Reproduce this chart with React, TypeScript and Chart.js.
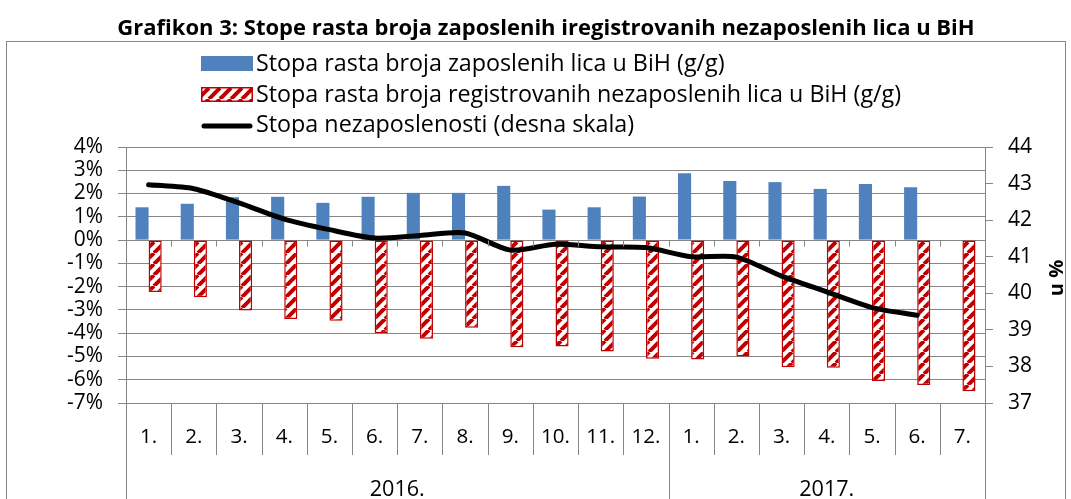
import React, { useEffect, useRef } from "react";
import { Chart, registerables } from "chart.js";

Chart.register(...registerables);

// ---------- data ----------
const titleText = "Grafikon 3: Stope rasta broja zaposlenih iregistrovanih nezaposlenih lica u BiH";
const months = ["1.", "2.", "3.", "4.", "5.", "6.", "7.", "8.", "9.", "10.", "11.", "12.", "1.", "2.", "3.", "4.", "5.", "6.", "7."];
const years = ["2016.", "2017."];
const yearSpans = [12, 7];
const seriesNames = [
  "Stopa rasta broja zaposlenih lica u BiH (g/g)",
  "Stopa rasta broja registrovanih nezaposlenih lica u BiH (g/g)",
  "Stopa nezaposlenosti (desna skala)",
];
const employedGrowth = [1.41, 1.56, 1.84, 1.86, 1.6, 1.86, 2.03, 2.03, 2.33, 1.31, 1.41, 1.87, 2.87, 2.54, 2.49, 2.2, 2.41, 2.27, null];
const unemployedGrowth = [-2.23, -2.46, -3.03, -3.39, -3.47, -4.0, -4.24, -3.77, -4.6, -4.57, -4.79, -5.1, -5.13, -5.0, -5.46, -5.49, -6.06, -6.23, -6.49];
const unemploymentRate = [42.97, 42.86, 42.47, 42.03, 41.74, 41.51, 41.58, 41.65, 41.18, 41.34, 41.27, 41.25, 41.0, 40.99, 40.47, 40.04, 39.61, 39.4, null];
const leftMin = -7;
const leftMax = 4;
const rightMin = 37;
const rightMax = 44;
const rightAxisTitle = "u %";

// ---------- styles ----------
const FONT = "'Open Sans'";
const BLUE = "#4F81BD";
const RED = "#C00000";
const GRID = "#868686";

function fitSize(text: string, target: number, weight = "normal") {
  const c = document.createElement("canvas").getContext("2d")!;
  c.font = `${weight} 100px ${FONT}`;
  const w = c.measureText(text).width;
  return Math.round((1000 * target) / w) / 10;
}

function makeStripePattern(ctx: CanvasRenderingContext2D) {
  const s = 11;
  const c = document.createElement("canvas");
  c.width = s;
  c.height = s;
  const g = c.getContext("2d")!;
  g.fillStyle = "#ffffff";
  g.fillRect(0, 0, s, s);
  g.strokeStyle = RED;
  g.lineWidth = 4;
  g.beginPath();
  for (let k = -1; k <= 1; k++) {
    g.moveTo(k * s, s);
    g.lineTo(k * s + s, 0);
  }
  g.stroke();
  return ctx.createPattern(c, "repeat")!;
}

export default function App() {
  const ref = useRef<HTMLCanvasElement>(null);

  useEffect(() => {
    const canvas = ref.current!;
    const ctx = canvas.getContext("2d")!;
    const pattern = makeStripePattern(ctx);

    const titleSize = fitSize(titleText, 857, "bold");
    const legendSize = fitSize(seriesNames[0], 468);
    const leftSize = fitSize("-7%", 36);
    const rightSize = fitSize("44", 24);
    const monthSize = fitSize("10.", 29);
    const yearSize = fitSize("2016.", 55);
    const monthPad = 437 - 403 - (monthSize * 1.2) / 2;

    const decor = {
      id: "decor",
      beforeDraw(chart: any) {
        const c = chart.ctx;
        c.save();
        c.fillStyle = "#fff";
        c.fillRect(0, 0, chart.width, chart.height);
        // title
        c.fillStyle = "#000";
        c.font = `bold ${titleSize}px ${FONT}`;
        c.textAlign = "center";
        c.textBaseline = "alphabetic";
        c.fillText(titleText, 546, 35);
        // frame
        c.strokeStyle = GRID;
        c.lineWidth = 1;
        c.strokeRect(6.5, 41.5, 1059, 520);
        c.restore();
      },
      afterDatasetsDraw(chart: any) {
        const c = chart.ctx;
        const x = chart.scales.x;
        const y = chart.scales.y;
        const area = chart.chartArea;
        const n = months.length;
        const bound = (i: number) => {
          if (i <= 0) return area.left;
          if (i >= n) return area.right;
          return (x.getPixelForValue(i - 1) + x.getPixelForValue(i)) / 2;
        };
        c.save();
        c.strokeStyle = GRID;
        c.lineWidth = 1;
        // zero line tick marks
        const y0 = Math.round(y.getPixelForValue(0)) + 0.5;
        c.beginPath();
        for (let i = 1; i < n; i++) {
          const bx = Math.round(bound(i)) + 0.5;
          c.moveTo(bx, y0);
          c.lineTo(bx, y0 + 6);
        }
        c.stroke();
        // category table lines
        const yearBounds = [0];
        yearSpans.forEach((s, k) => yearBounds.push(yearBounds[k] + s));
        c.beginPath();
        for (let i = 0; i <= n; i++) {
          const bx = Math.round(bound(i)) + 0.5;
          const full = yearBounds.includes(i);
          c.moveTo(bx, area.bottom);
          c.lineTo(bx, full ? chart.height : area.bottom + 52);
        }
        c.stroke();
        // year labels
        c.fillStyle = "#000";
        c.font = `${yearSize}px ${FONT}`;
        c.textAlign = "center";
        c.textBaseline = "alphabetic";
        years.forEach((yr, k) => {
          const cx = (bound(yearBounds[k]) + bound(yearBounds[k + 1])) / 2;
          c.fillText(yr, cx, 496);
        });
        c.restore();
      },
      afterDraw(chart: any) {
        const c = chart.ctx;
        c.save();
        // legend
        const lx = 201;
        const sw = 52;
        const swY = [56, 87];
        const baselines = [71, 102, 132];
        // blue swatch
        c.fillStyle = BLUE;
        c.fillRect(lx, swY[0], sw, 15);
        // red swatch
        c.fillStyle = pattern;
        c.fillRect(lx, swY[1], sw, 15);
        c.strokeStyle = RED;
        c.lineWidth = 1.5;
        c.strokeRect(lx + 0.75, swY[1] + 0.75, sw - 1.5, 15 - 1.5);
        // line swatch
        c.strokeStyle = "#000";
        c.lineWidth = 5;
        c.lineCap = "round";
        c.beginPath();
        c.moveTo(lx + 3, 126);
        c.lineTo(lx + sw - 3, 126);
        c.stroke();
        c.fillStyle = "#000";
        c.font = `${legendSize}px ${FONT}`;
        c.textAlign = "left";
        c.textBaseline = "alphabetic";
        seriesNames.forEach((t, i) => c.fillText(t, lx + sw + 3, baselines[i]));
        // right axis title
        c.font = `bold 20px ${FONT}`;
        c.textAlign = "center";
        c.textBaseline = "middle";
        c.translate(1057, 278);
        c.rotate(-Math.PI / 2);
        c.fillText(rightAxisTitle, 0, 0);
        c.restore();
      },
    };

    const chart = new Chart(canvas, {
      type: "bar",
      data: {
        labels: months,
        datasets: [
          {
            type: "bar",
            label: seriesNames[0],
            data: employedGrowth,
            backgroundColor: BLUE,
            borderWidth: 0,
            yAxisID: "y",
            order: 2,
            categoryPercentage: 0.58,
            barPercentage: 1,
          },
          {
            type: "bar",
            label: seriesNames[1],
            data: unemployedGrowth,
            backgroundColor: pattern,
            borderColor: RED,
            borderWidth: 1.5,
            borderSkipped: false,
            yAxisID: "y",
            order: 2,
            categoryPercentage: 0.58,
            barPercentage: 1,
          },
          {
            type: "line",
            label: seriesNames[2],
            data: unemploymentRate,
            borderColor: "#000",
            backgroundColor: "#000",
            borderWidth: 5,
            pointRadius: 0,
            tension: 0.25,
            borderCapStyle: "round",
            borderJoinStyle: "round",
            yAxisID: "y1",
            order: 0,
          },
        ],
      } as any,
      plugins: [decor],
      options: {
        responsive: false,
        animation: false,
        devicePixelRatio: 1,
        layout: { padding: { top: 147, left: 0, right: 0, bottom: 0 } },
        plugins: {
          legend: { display: false },
          title: { display: false },
          tooltip: { enabled: false },
        },
        scales: {
          x: {
            type: "category",
            offset: true,
            grid: { display: false, drawTicks: false },
            border: { display: false },
            ticks: {
              font: { family: FONT, size: monthSize },
              color: "#000",
              padding: monthPad,
              maxRotation: 0,
              autoSkip: false,
            },
            afterFit: (s: any) => {
              s.height = 96;
            },
          },
          y: {
            position: "left",
            min: leftMin,
            max: leftMax,
            ticks: {
              stepSize: 1,
              autoSkip: false,
              callback: (v: any) => `${v}%`,
              font: { family: FONT, size: leftSize },
              color: "#000",
              padding: 15,
            },
            grid: { color: GRID, lineWidth: 1, tickLength: 8 },
            border: { color: GRID, width: 1 },
            afterFit: (s: any) => {
              s.width = 126;
            },
          },
          y1: {
            position: "right",
            min: rightMin,
            max: rightMax,
            ticks: {
              stepSize: 1,
              autoSkip: false,
              font: { family: FONT, size: rightSize },
              color: "#000",
              padding: 15,
            },
            grid: { drawOnChartArea: false, color: GRID, lineWidth: 1, tickLength: 8 },
            border: { color: GRID, width: 1 },
            afterFit: (s: any) => {
              s.width = 86;
            },
          },
        },
      } as any,
    });

    return () => chart.destroy();
  }, []);

  return (
    <div style={{ position: "relative", width: 1071, height: 499, overflow: "hidden", background: "#fff" }}>
      <style>{`html,body{margin:0;padding:0;overflow:hidden;background:#fff;}`}</style>
      <canvas ref={ref} width={1071} height={499} style={{ display: "block", width: 1071, height: 499 }} />
    </div>
  );
}
